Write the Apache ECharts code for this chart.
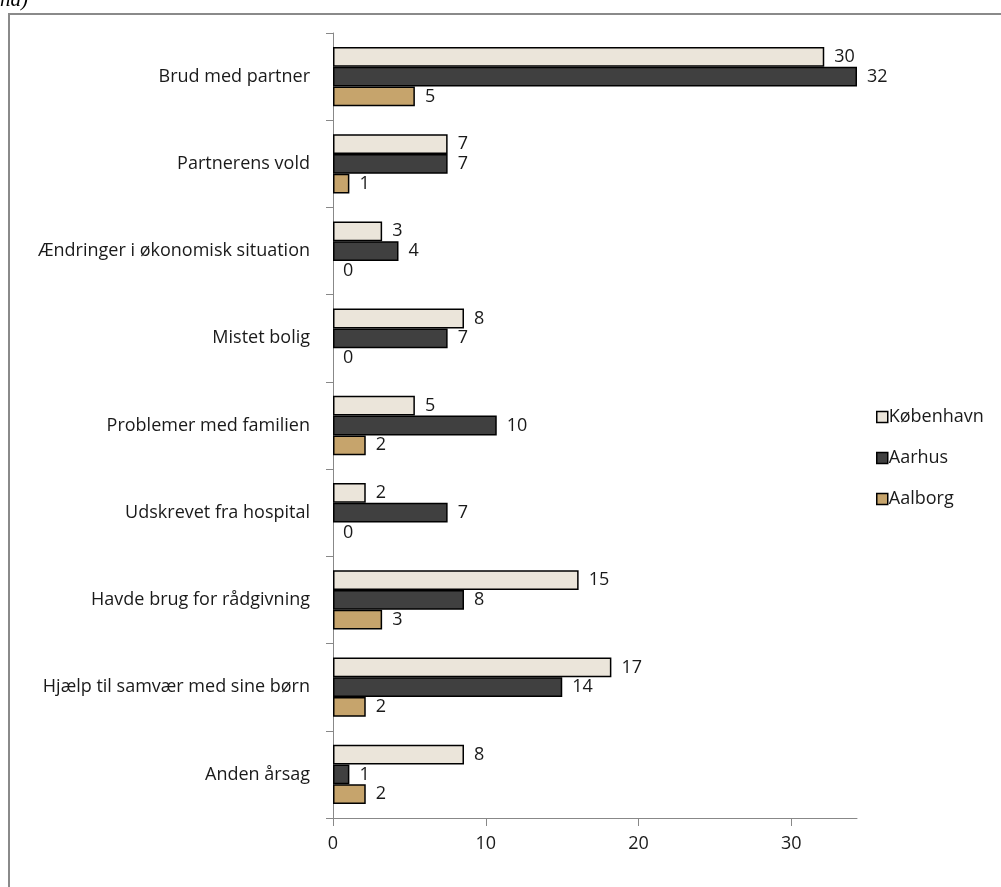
<!DOCTYPE html>
<html>
<head>
<meta charset="utf-8">
<script src="https://cdn.jsdelivr.net/npm/echarts@6/dist/echarts.min.js"></script>
<style>
html,body{margin:0;padding:0;background:#fff;}
#c{width:1001px;height:887px;}
</style>
</head>
<body>
<div id="c"></div>
<script>
const categories = ["Brud med partner","Partnerens vold","Ændringer i økonomisk situation","Mistet bolig","Problemer med familien","Udskrevet fra hospital","Havde brug for rådgivning","Hjælp til samvær med sine børn","Anden årsag"];
const seriesNames = ["København","Aarhus","Aalborg"];
const kobenhavn = [30,7,3,8,5,2,15,17,8];
const aarhus = [32,7,4,7,10,7,8,14,1];
const aalborg = [5,1,0,0,2,0,3,2,2];
const xTicks = [0,10,20,30];

const colors = ["#ebe5da","#404040","#c6a46c"];
const font = "'Open Sans', sans-serif";
const fs = 18;
const txt = '#1a1a1a';
const chart = echarts.init(document.getElementById('c'));
const values = [kobenhavn, aarhus, aalborg];

chart.setOption({
  animation:false,
  backgroundColor:'#fff',
  graphic:[
    {type:'rect', shape:{x:9,y:14,width:1100,height:1000}, style:{fill:'none',stroke:'#8a8a8a',lineWidth:2}},
    {type:'text', left:0, top:-10, style:{text:'nd)³³', font:'italic 21px "Liberation Serif", serif', fill:'#000'}}
  ],
  grid:{left:333, right:144, top:33, bottom:69, containLabel:false},
  legend:{
    orient:'vertical', left:871, top:403, itemWidth:11, itemHeight:11, itemGap:23,
    icon:'rect',
    itemStyle:{borderColor:'#000',borderWidth:1.5},
    textStyle:{fontFamily:font,fontSize:fs,color:txt,padding:[0,0,0,-4]},
    data:seriesNames
  },
  xAxis:[
    {type:'value', min:0, max:32, show:false},
    {type:'value', min:0, max:34.3, interval:10, position:'bottom',
     axisLine:{show:true,lineStyle:{color:'#888',width:1}},
     axisTick:{show:true,length:8,lineStyle:{color:'#888'},customValues:xTicks},
     splitLine:{show:false},
     axisLabel:{fontFamily:font,fontSize:fs,color:txt,margin:17,customValues:xTicks,
       formatter:v=> xTicks.includes(v)? String(v):''}}
  ],
  yAxis:{
    type:'category', data:categories, inverse:true, boundaryGap:true,
    axisLine:{show:true,lineStyle:{color:'#888'}},
    axisTick:{show:true,length:7,lineStyle:{color:'#888'}},
    axisLabel:{fontFamily:font,fontSize:fs,color:txt,margin:23}
  },
  series: seriesNames.map((n,i)=>({
    name:n, type:'bar', xAxisIndex:0,
    data:values[i].map(v => v===0 ? {value:0, itemStyle:{borderWidth:0}} : v),
    barGap:'0%', barCategoryGap:'32%',
    itemStyle:{color:colors[i], borderColor:'#000', borderWidth:1.5},
    label:{show:true, position:'right', distance:10, fontFamily:font, fontSize:fs, color:txt}
  }))
});
</script>
</body>
</html>
